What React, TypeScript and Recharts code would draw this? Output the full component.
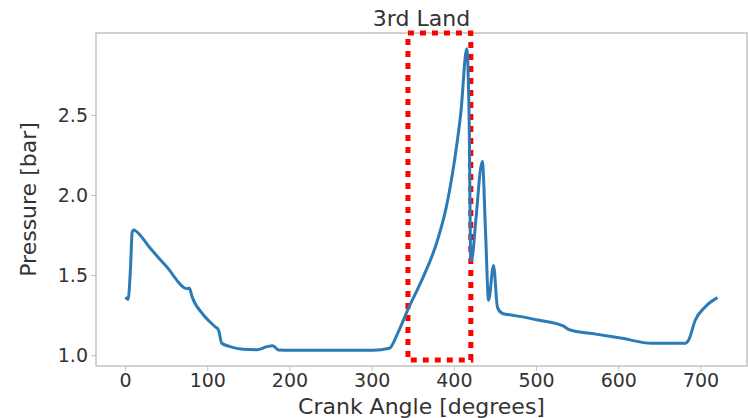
import React from 'react';
import {
  LineChart,
  Line,
  XAxis,
  YAxis,
  ReferenceArea,
} from 'recharts';

// crank angle [deg] and pressure [bar]
const angle = [
  0, 3, 6, 8, 10, 12, 30, 50, 75, 77.5, 81, 95, 109, 113, 117, 127, 143, 160,
  172, 179, 186, 200, 260, 301, 321, 331, 343, 362, 378, 390, 400, 408, 415,
  418, 420, 422, 426, 434, 438, 441.6, 447.6, 452.5, 458.6, 471, 503, 533, 539,
  572, 604, 640, 681, 685, 693, 705, 720,
];
const pressure = [
  1.365, 1.35, 1.55, 1.77, 1.785, 1.78, 1.67, 1.555, 1.418, 1.422, 1.366,
  1.252, 1.18, 1.16, 1.077, 1.056, 1.04, 1.037, 1.056, 1.062, 1.035, 1.033,
  1.033, 1.033, 1.046, 1.139, 1.283, 1.49, 1.697, 1.924, 2.213, 2.523, 2.916,
  2.46, 1.593, 1.62, 1.84, 2.213, 1.76, 1.345, 1.562, 1.3, 1.263, 1.252, 1.221,
  1.184, 1.163, 1.134, 1.108, 1.077, 1.077, 1.097, 1.221, 1.304, 1.362,
];
const xTicks = [0, 100, 200, 300, 400, 500, 600, 700];
const yTicks = [1.0, 1.5, 2.0, 2.5];
// highlighted window (crank angle range)
const highlight = [343.5, 420];

const data = angle.map((a, i) => ({ angle: a, pressure: pressure[i] }));

const FONT = '"DejaVu Sans", sans-serif';
const TXT = '#333';
const SPINE = '#c4c4c4';

export default function App() {
  return (
    <div style={{ position: 'absolute', left: 0, top: 0, width: 748, height: 418, background: '#fff', fontFamily: FONT }}>
      <div
        style={{
          position: 'absolute',
          left: 96,
          width: 651,
          top: 6,
          textAlign: 'center',
          fontSize: 22,
          color: TXT,
          lineHeight: '26px',
        }}
      >
        3rd Land
      </div>
      <LineChart
        width={748}
        height={418}
        data={data}
        margin={{ top: 33, right: 1, bottom: 0, left: 0 }}
      >
        <XAxis
          dataKey="angle"
          type="number"
          domain={[-36, 756]}
          ticks={xTicks}
          allowDataOverflow
          axisLine={false}
          tickSize={5}
          tickMargin={3}
          height={52}
          tickLine={{ stroke: SPINE }}
          tick={{ fill: TXT, fontSize: 19, fontFamily: FONT }}
          label={{
            value: 'Crank Angle [degrees]',
            position: 'insideBottom',
            offset: 4,
            fill: TXT,
            fontSize: 22,
            fontFamily: FONT,
          }}
        />
        <YAxis
          type="number"
          domain={[0.935, 3.015]}
          ticks={yTicks}
          allowDataOverflow
          axisLine={false}
          width={96}
          tickSize={5}
          tickMargin={3}
          tickLine={{ stroke: SPINE }}
          tickFormatter={(v: number) => v.toFixed(1)}
          tick={{ fill: TXT, fontSize: 19, fontFamily: FONT }}
          label={{
            value: 'Pressure [bar]',
            angle: -90,
            position: 'insideLeft',
            offset: 28,
            style: { textAnchor: 'middle' },
            fill: TXT,
            fontSize: 22,
            fontFamily: FONT,
          }}
        />
        {/* axes frame */}
        <ReferenceArea
          x1={-36}
          x2={756}
          y1={0.935}
          y2={3.015}
          fill="none"
          stroke={SPINE}
          strokeWidth={1.5}
          ifOverflow="visible"
        />
        <Line
          type="monotone"
          dataKey="pressure"
          stroke="#2c7bb6"
          strokeWidth={3}
          dot={false}
          isAnimationActive={false}
        />
        <ReferenceArea
          x1={highlight[0]}
          x2={highlight[1]}
          y1={0.972}
          y2={3.015}
          fill="none"
          stroke="#ff0000"
          strokeWidth={5}
          strokeDasharray="6 6"
          ifOverflow="visible"
        />
      </LineChart>
    </div>
  );
}
